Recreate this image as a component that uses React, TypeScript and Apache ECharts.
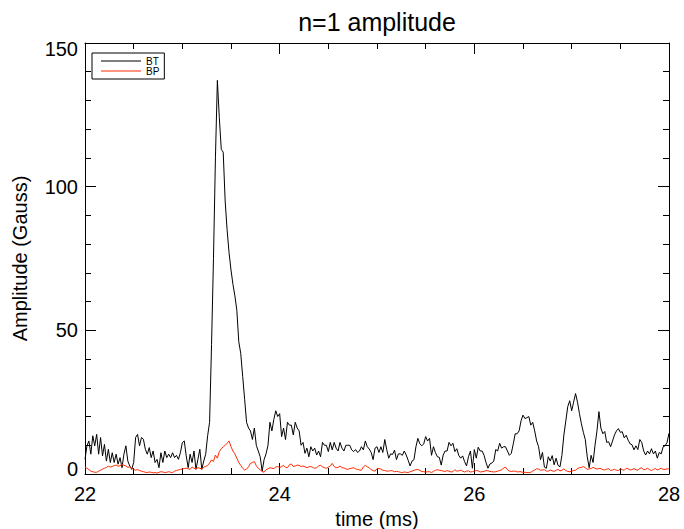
import React, { useEffect, useRef } from "react";
import * as echarts from "echarts";

const TITLE = "n=1 amplitude";
const X_NAME = "time (ms)";
const Y_NAME = "Amplitude (Gauss)";
const SERIES_NAMES = ["BT", "BP"];
const SERIES_COLORS = ["#000000", "#ff2a00"];
const SAMPLE_START_MS = 22.0;
const SAMPLE_STEP_MS = 0.02;
const X_RANGE = [22, 28];
const X_INTERVAL = 2;
const Y_RANGE = [0, 150];
const Y_INTERVAL = 50;

// BT amplitude (Gauss), sampled every 0.02 ms from 22.00 ms
const BT = [
  5.1, 9.8, 11.5, 6.9, 13.3, 9.8, 13.8, 6.9, 12.7, 6.3,
  10.3, 4.5, 8.6, 4.0, 7.4, 4.0, 6.9, 3.4, 5.7, 2.2,
  6.9, 9.8, 4.5, 2.8, 1.6, 4.0, 12.7, 13.8, 9.8, 12.7,
  12.1, 8.6, 6.9, 9.2, 5.7, 8.0, 4.0, 5.1, 2.2, 7.4,
  4.0, 8.0, 5.7, 6.9, 5.7, 7.4, 5.7, 6.5, 5.1, 7.4,
  10.9, 11.5, 6.3, 2.2, 6.9, 4.0, 8.0, 1.6, 5.1, 8.6,
  1.6, 4.5, 6.9, 13.3, 18, 45, 75, 110, 137, 124,
  113, 112, 95, 85, 77, 71, 66, 62, 57, 46,
  42, 34, 26, 18, 16, 15, 12, 16, 10, 8,
  6, 1, 5, 7, 10, 18, 15, 19, 22, 20,
  21, 13, 16, 12, 18, 17, 17, 13.6, 18, 16,
  15, 10, 11, 7.2, 9, 6, 9.5, 8, 9, 6.6,
  8, 6, 11, 10, 10, 7.8, 11, 8.4, 11, 9,
  8, 11, 9, 8, 10, 10, 10, 8.4, 7.8, 8.5,
  7.5, 8, 9.5, 8.4, 11.5, 9.5, 8.7, 7.5, 5, 9,
  9.5, 7.5, 9.5, 7.5, 12, 8.5, 5.5, 7, 6.8, 8.3,
  5, 7, 7, 6.5, 8, 6.6, 4.8, 2.8, 4.5, 5,
  9.5, 12.4, 10.5, 9.8, 10.5, 13, 11.5, 12.4, 6.5, 9.5,
  7.5, 6, 5.8, 3.1, 6.6, 8, 8, 11, 9.8, 10.7,
  7.8, 8.8, 6.5, 5.5, 6.3, 4.3, 2.8, 6, 8, 2,
  8.5, 5.5, 9.3, 8, 8, 6.5, 4, 2, 3.5, 3.8,
  4.5, 8.5, 8, 10.7, 9, 9.5, 9.5, 8, 6.5, 7.2,
  10.5, 14, 14, 15, 18.5, 20.5, 19.3, 19.6, 20, 17,
  18, 15, 11.5, 9.5, 5, 7.5, 2.4, 2, 6, 4.5,
  6.4, 3.2, 5.5, 3, 2.5, 6.5, 13.6, 18.5, 23.5, 25.5,
  22, 25, 28, 25, 21, 17.5, 14.5, 12, 6, 2.2,
  6.5, 4, 10, 15, 21.7, 16, 14, 14.8, 11, 11.2,
  9.5, 11.5, 13.6, 15, 15.8, 14.5, 14.7, 12.6, 13.5, 11.8,
  10.5, 10.2, 8.4, 9.8, 8.5, 12, 11, 8, 6.6, 8,
  7, 8.8, 7, 8, 5.5, 7.5, 7, 9.5, 9.8, 11,
  14.2,
];

// BP amplitude (Gauss), sampled every 0.02 ms from 22.00 ms
const BP = [
  2.5, 2, 1.5, 1, 0.8, 0.6, 0.6, 1, 1.3, 1.7,
  2, 2.3, 2.7, 2.4, 2.6, 2.9, 3.1, 2.7, 2.9, 3.4,
  3, 2.8, 2.3, 2.5, 2, 1.6, 1.3, 1.6, 1.2, 1.0,
  0.8, 0.6, 0.5, 0.7, 0.6, 0.4, 0.5, 0.3, 0.6, 0.8,
  0.7, 0.5, 0.6, 0.8, 0.6, 0.5, 1.0, 1.2, 1.4, 1.6,
  1.7, 1.9, 2, 1.8, 1.6, 2.4, 2, 1.8, 2.2, 2,
  1.7, 2.4, 2.6, 3, 3.8, 4.9, 4.4, 6.6, 5.5, 7.8,
  8.8, 9.4, 10, 10.7, 11.5, 9.5, 8, 7, 5.5, 4,
  3, 2, 1.4, 1.7, 2.5, 3.7, 4, 4.3, 2.9, 2,
  1.4, 0.9, 0.6, 1.5, 1.8, 2.2, 2, 1.9, 2.4, 2.6,
  2.2, 2.6, 3, 2.3, 2.2, 3.2, 3.5, 2.6, 2.8, 3.1,
  3, 2.6, 2.8, 2.5, 2.2, 2.5, 2.6, 2.3, 2, 2.2,
  2.8, 3, 2.5, 2.2, 2, 2.4, 2.8, 3.7, 2.6, 2.2,
  2.3, 2.8, 2.2, 2.1, 1.8, 1.6, 1.9, 2, 2.2, 1.8,
  1.6, 1.4, 1.3, 2.5, 3, 2.5, 2.2, 1.5, 1.2, 1,
  1.9, 1.9, 1.7, 1.3, 1.2, 1.0, 1.0, 1.2, 1.1, 0.8,
  0.9, 0.8, 0.6, 0.5, 0.7, 0.6, 0.5, 0.8, 1.0, 1.3,
  1.5, 1.6, 1.2, 0.9, 0.8, 0.6, 0.8, 0.8, 0.5, 0.9,
  1.3, 1.5, 1.3, 1.2, 1.0, 0.9, 1.2, 1.0, 0.7, 0.8,
  1.5, 1.0, 1.1, 1.3, 1.0, 0.7, 1.0, 1.1, 0.7, 0.8,
  1.0, 1.2, 1.1, 0.7, 0.8, 0.9, 1.2, 1.1, 0.9, 0.8,
  0.7, 0.8, 1.0, 1.2, 1.4, 2.1, 2.4, 1.5, 1.0, 0.9,
  1.0, 1.0, 0.7, 0.8, 0.8, 0.5, 0.6, 0.5, 0.5, 0.6,
  1.0, 1.4, 1.8, 1.7, 1.3, 1.4, 1.5, 1.0, 1.0, 1.4,
  1.1, 0.9, 1.3, 1.6, 1.1, 1.3, 1.8, 1.2, 0.9, 0.8,
  1.0, 1.2, 1.3, 1.9, 2.2, 2.3, 2.6, 2.2, 1.6, 1.8,
  1.9, 2.3, 2.0, 1.7, 1.9, 1.9, 1.5, 1.4, 1.7, 1.8,
  1.2, 1.4, 1.6, 1.3, 1.2, 1.8, 1.5, 1.3, 2.0, 1.8,
  1.4, 1.5, 1.9, 1.5, 1.3, 2.0, 2.1, 1.5, 1.6, 2.0,
  1.5, 1.2, 1.6, 1.9, 1.4, 1.7, 2.0, 1.6, 1.6, 1.8,
  1.8,
];

const FONT = "'Liberation Sans', Arial, Helvetica, sans-serif";

function toPairs(values: number[]) {
  return values.map((v, i) => [
    Math.round((SAMPLE_START_MS + i * SAMPLE_STEP_MS) * 100) / 100,
    v,
  ]);
}

export default function App() {
  const ref = useRef<HTMLDivElement>(null);

  useEffect(() => {
    if (!ref.current) return;
    const chart = echarts.init(ref.current, null, { renderer: "svg" });

    const axisLine = { show: true, onZero: false, lineStyle: { color: "#000", width: 1 } };
    const axisTick = { show: true, inside: true, length: 11, lineStyle: { color: "#000", width: 1 } };
    const minorTickLen = 6;

    const xCommon = {
      type: "value",
      min: X_RANGE[0],
      max: X_RANGE[1],
      interval: X_INTERVAL,
      axisLine,
      axisTick,
      splitLine: { show: false },
      minorSplitLine: { show: false },
      minorTick: { show: true, splitNumber: 4, length: minorTickLen, lineStyle: { color: "#000", width: 1 } },
    };
    const yCommon = {
      type: "value",
      min: Y_RANGE[0],
      max: Y_RANGE[1],
      interval: Y_INTERVAL,
      axisLine,
      axisTick,
      splitLine: { show: false },
      minorSplitLine: { show: false },
      minorTick: { show: true, splitNumber: 5, length: minorTickLen, lineStyle: { color: "#000", width: 1 } },
    };

    chart.setOption({
      animation: false,
      backgroundColor: "#ffffff",
      textStyle: { fontFamily: FONT },
      grid: {
        left: 85,
        right: 15,
        top: 43,
        bottom: 55,
        containLabel: false,
        outerBoundsMode: "none",
      },
      graphic: [
        {
          type: "text",
          x: 377,
          y: 22,
          style: {
            text: TITLE,
            fontSize: 25,
            fontFamily: FONT,
            fill: "#000",
            textAlign: "center",
            textVerticalAlign: "middle",
          },
        },
      ],
      legend: {
        show: true,
        orient: "vertical",
        left: 92,
        top: 53,
        icon: "rect",
        itemWidth: 40,
        itemHeight: 1,
        itemGap: 0,
        padding: [3, 5, 3, 9],
        borderColor: "#000",
        borderWidth: 1,
        backgroundColor: "#fff",
        textStyle: { fontSize: 10, lineHeight: 10, color: "#000", fontFamily: FONT },
        data: SERIES_NAMES,
      },
      xAxis: [
        {
          ...xCommon,
          position: "bottom",
          axisLabel: { show: true, color: "#000", fontSize: 20, fontFamily: FONT, margin: 10 },
          name: X_NAME,
          nameLocation: "middle",
          nameGap: 33,
          nameTextStyle: { fontSize: 20, color: "#000", fontFamily: FONT },
        },
        {
          ...xCommon,
          position: "top",
          axisLabel: { show: false },
        },
      ],
      yAxis: [
        {
          ...yCommon,
          position: "left",
          axisLabel: {
            show: true,
            color: "#000",
            fontSize: 20,
            fontFamily: FONT,
            margin: 7,
            formatter: (v: number) =>
              v === Y_RANGE[1] ? `{top|${v}}` : v === Y_RANGE[0] ? `{bot|${v}}` : `${v}`,
            rich: {
              top: { fontSize: 20, color: "#000", fontFamily: FONT, padding: [12, 0, 0, 0] },
              bot: { fontSize: 20, color: "#000", fontFamily: FONT, padding: [0, 0, 11, 0] },
            },
          },
          name: Y_NAME,
          nameLocation: "middle",
          nameGap: 55,
          nameTextStyle: { fontSize: 20, color: "#000", fontFamily: FONT },
        },
        {
          ...yCommon,
          position: "right",
          axisLabel: { show: false },
        },
      ],
      series: [
        {
          name: SERIES_NAMES[0],
          type: "line",
          xAxisIndex: 0,
          yAxisIndex: 0,
          data: toPairs(BT),
          symbol: "none",
          showSymbol: false,
          color: SERIES_COLORS[0],
          lineStyle: { color: SERIES_COLORS[0], width: 1 },
        },
        {
          name: SERIES_NAMES[1],
          type: "line",
          xAxisIndex: 0,
          yAxisIndex: 0,
          data: toPairs(BP),
          symbol: "none",
          showSymbol: false,
          color: SERIES_COLORS[1],
          lineStyle: { color: SERIES_COLORS[1], width: 1 },
        },
      ],
    });

    return () => chart.dispose();
  }, []);

  return (
    <div
      ref={ref}
      style={{ position: "absolute", left: 0, top: 0, width: 684, height: 529, background: "#fff" }}
    />
  );
}
